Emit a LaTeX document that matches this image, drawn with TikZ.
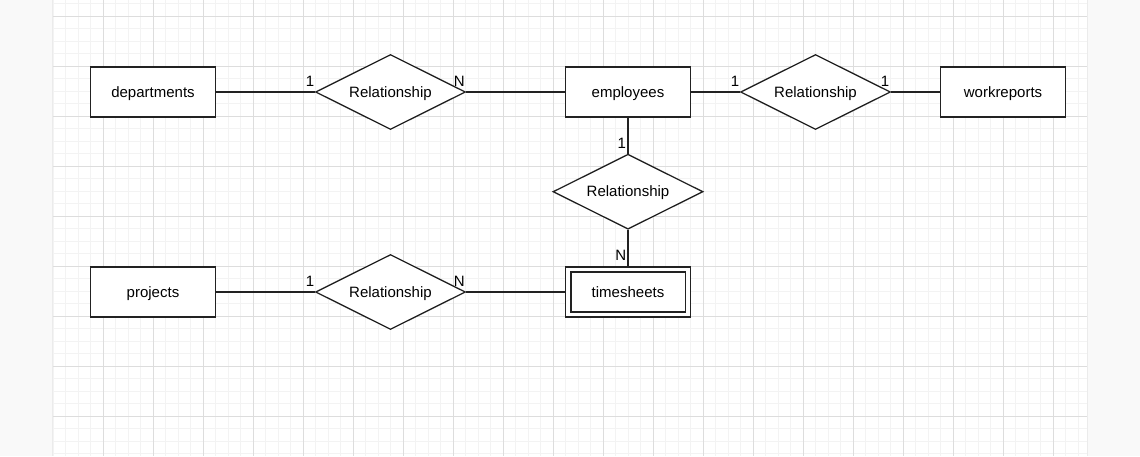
\documentclass[tikz,border=0pt]{standalone}
\usepackage{fontspec}
\setmainfont{Liberation Sans}
\usetikzlibrary{shapes.geometric}
\definecolor{pagebg}{HTML}{F9F9F9}
\definecolor{minorgrid}{HTML}{F3F3F3}
\definecolor{majorgrid}{HTML}{DDDDDD}
\definecolor{edgeshade}{HTML}{EBEBEB}
\definecolor{ink}{HTML}{222222}
\begin{document}
\begin{tikzpicture}[x=1pt,y=-1pt,
  every node/.style={font=\fontsize{15pt}{18pt}\selectfont},
  entity/.style={draw=ink, line width=1.6pt, fill=white, rectangle,
    minimum width=125pt, minimum height=50pt, inner sep=0pt,
    text height=10pt, text depth=0pt},
  rel/.style={draw=ink, line width=1.3pt, fill=white, diamond,
    minimum width=150pt, minimum height=75pt, inner sep=0pt, shape aspect=2,
    text height=10pt, text depth=0pt},
  conn/.style={draw=ink, line width=1.3pt},
  card/.style={inner sep=0pt, anchor=center}
]
\useasboundingbox (0,0) rectangle (1140,456);
\fill[pagebg] (0,0) rectangle (1140,456);
\fill[white] (53,0) rectangle (1087,456);
% minor grid
\foreach \i in {0,...,82} {\draw[minorgrid, line width=1pt] ({53+12.5*\i},0) -- ({53+12.5*\i},456);}
\foreach \j in {0,...,36} {\draw[minorgrid, line width=1pt] (53,{3.5+12.5*\j}) -- (1087,{3.5+12.5*\j});}
% major grid
\foreach \i in {1,...,20} {\draw[majorgrid, line width=1pt] ({53+50*\i},0) -- ({53+50*\i},456);}
\foreach \j in {0,...,8} {\draw[majorgrid, line width=1pt] (53,{16+50*\j}) -- (1087,{16+50*\j});}
\draw[edgeshade, line width=1.5pt] (52.5,0) -- (52.5,456);
\draw[edgeshade, line width=1.5pt] (1087.5,0) -- (1087.5,456);

% entities
\node[entity] (dep) at (153,92) {departments};
\node[entity] (emp) at (628,92) {employees};
\node[entity] (wr) at (1003,92) {workreports};
\node[entity] (proj) at (153,292) {projects};
\node[entity] (ts) at (628,292) {timesheets};
\draw[ink, line width=1.6pt] ([shift={(6,6)}]ts.north west) rectangle ([shift={(-6,-6)}]ts.south east);

% relationships
\node[rel] (r1) at (390.5,92) {Relationship};
\node[rel] (r2) at (815.5,92) {Relationship};
\node[rel] (r3) at (628,191.7) {Relationship};
\node[rel] (r4) at (390.5,292) {Relationship};

% connectors
\draw[conn] (dep) -- (r1);
\draw[conn] (r1) -- (emp);
\draw[conn] (emp) -- (r2);
\draw[conn] (r2) -- (wr);
\draw[conn] (emp) -- (r3);
\draw[conn] (r3) -- (ts);
\draw[conn] (proj) -- (r4);
\draw[conn] (r4) -- (ts);

% cardinalities
\node[card] (c1) at (310,81.7) {1};
\node[card] (c2) at (459.3,81.7) {N};
\node[card] (c3) at (735,81.7) {1};
\node[card] (c4) at (885,81.7) {1};
\node[card] (c5) at (621.7,143.3) {1};
\node[card] (c6) at (620.7,255.7) {N};
\node[card] (c7) at (310,281.7) {1};
\node[card] (c8) at (459.3,281.7) {N};
\end{tikzpicture}
\end{document}
